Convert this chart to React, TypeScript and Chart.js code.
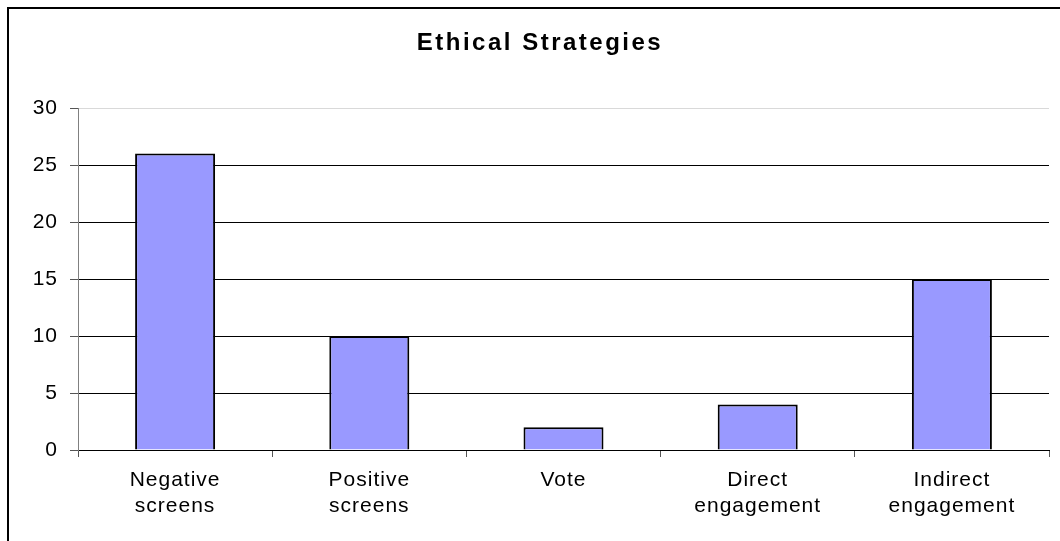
import React, { useEffect, useRef } from "react";
import { Chart, registerables } from "chart.js";

Chart.register(...registerables);

const chartTitle = "Ethical Strategies";
const categories: (string | string[])[] = [
  ["Negative", "screens"],
  ["Positive", "screens"],
  "Vote",
  ["Direct", "engagement"],
  ["Indirect", "engagement"],
];
const values = [26, 10, 2, 4, 15];
const yTickValues = [0, 5, 10, 15, 20, 25, 30];

const FONT = '"Liberation Sans", Arial, sans-serif';

export default function App() {
  const ref = useRef<HTMLCanvasElement>(null);

  useEffect(() => {
    const spacingPlugin = {
      id: "letterSpacing",
      afterLayout(chart: any) {
        const tb = chart.titleBlock;
        if (tb && !tb._spaced) {
          const orig = tb.draw.bind(tb);
          tb.draw = function (area: any) {
            const ctx = chart.ctx;
            const prev = ctx.letterSpacing;
            ctx.letterSpacing = "2.5px";
            orig(area);
            ctx.letterSpacing = prev;
          };
          tb._spaced = true;
        }
      },
      beforeDraw(chart: any) {
        chart.ctx.letterSpacing = "1px";
      },
    };
    const chart = new Chart(ref.current as HTMLCanvasElement, {
      type: "bar",
      data: {
        labels: categories as any,
        datasets: [
          {
            data: values,
            backgroundColor: "#9999FF",
            borderColor: "#000000",
            borderWidth: 2,
            categoryPercentage: 1,
            barPercentage: 0.412,
          },
        ],
      },
      options: {
        responsive: false,
        animation: false,
        devicePixelRatio: 1,
        font: { family: FONT },
        layout: { padding: { left: 31, right: 11, top: 0, bottom: 0 } },
        plugins: {
          legend: { display: false },
          tooltip: { enabled: false },
          title: {
            display: true,
            text: chartTitle,
            color: "#000",
            font: { family: FONT, size: 24, weight: "bold", lineHeight: 1.2 },
            padding: { top: 29.1, bottom: 50.1 },
          },
        },
        scales: {
          x: {
            grid: {
              drawOnChartArea: false,
              drawTicks: true,
              tickLength: 7,
              tickColor: "#555",
              offset: true,
            },
            border: { color: "#000", width: 1 },
            ticks: {
              color: "#000",
              font: { family: FONT, size: 21, lineHeight: 1.2 },
              padding: 11,
              maxRotation: 0,
              autoSkip: false,
            },
            afterFit(s: any) {
              s.height = 91;
            },
          },
          y: {
            min: 0,
            max: 30,
            afterBuildTicks(s: any) {
              s.ticks = yTickValues.map((v) => ({ value: v }));
            },
            ticks: {
              color: "#000",
              font: { family: FONT, size: 21 },
              padding: 12,
            },
            grid: {
              color: (c: any) =>
                c.tick && c.tick.value === 30 ? "#d9d9d9" : "#000",
              tickLength: 8,
              tickColor: "#555",
            },
            border: { color: "#808080", width: 1 },
            afterFit(s: any) {
              s.width = 47;
            },
          },
        },
      } as any,
      plugins: [spacingPlugin],
    });
    return () => chart.destroy();
  }, []);

  return (
    <div
      style={{
        position: "fixed",
        left: 0,
        top: 0,
        width: 1060,
        height: 541,
        overflow: "hidden",
        background: "#fff",
      }}
    >
      <canvas
        ref={ref}
        width={1060}
        height={541}
        style={{ position: "absolute", left: 0, top: 0, display: "block" }}
      />
      <div
        style={{
          position: "absolute",
          left: 7,
          top: 7,
          width: 1100,
          height: 600,
          border: "2px solid #000",
          pointerEvents: "none",
        }}
      />
    </div>
  );
}
